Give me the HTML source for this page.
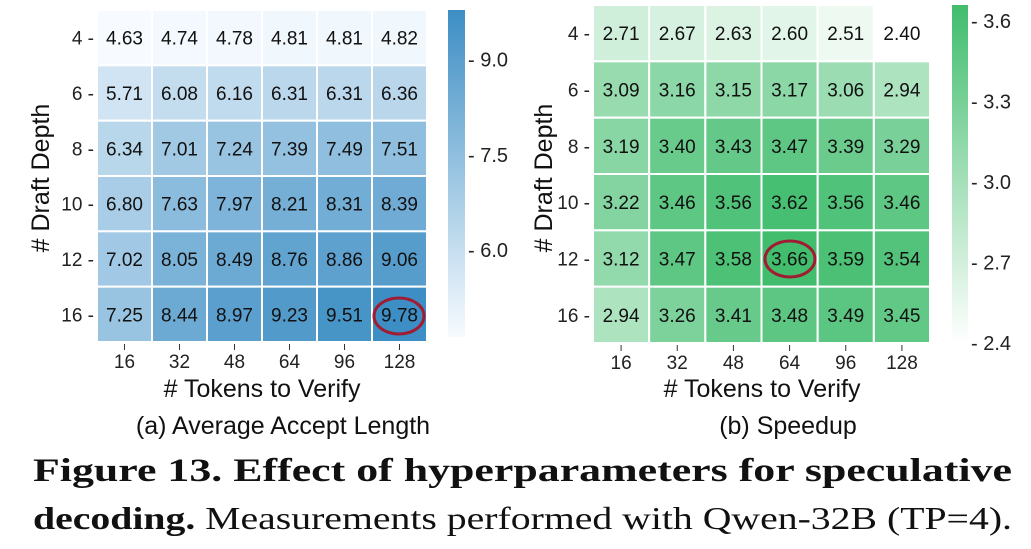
<!DOCTYPE html>
<html><head><meta charset="utf-8"><style>
html,body{margin:0;padding:0;background:#fff;width:1031px;height:549px;overflow:hidden}
svg{display:block;font-family:"Liberation Sans",Arial,sans-serif}
</style></head><body>
<svg id="s" width="1031" height="549" viewBox="0 0 1031 549" xmlns="http://www.w3.org/2000/svg">
<defs>
<linearGradient id="gb" x1="0" y1="1" x2="0" y2="0"><stop offset="0" stop-color="#f7fbff"/><stop offset="1" stop-color="#3d8ec4"/></linearGradient>
<linearGradient id="gg" x1="0" y1="1" x2="0" y2="0"><stop offset="0" stop-color="#ffffff"/><stop offset="1" stop-color="#41bd6d"/></linearGradient>
</defs>
<g id="L"></g><g id="R"></g>
<text transform="translate(49,178) rotate(-90)" text-anchor="middle" font-size="25" fill="#111"># Draft Depth</text>
<text x="262" y="397" text-anchor="middle" font-size="25" fill="#111"># Tokens to Verify</text>
<text x="283" y="434" text-anchor="middle" font-size="25" fill="#111">(a) Average Accept Length</text>
<text transform="translate(552,178) rotate(-90)" text-anchor="middle" font-size="25" fill="#111"># Draft Depth</text>
<text x="762" y="397" text-anchor="middle" font-size="25" fill="#111"># Tokens to Verify</text>
<text x="788" y="434" text-anchor="middle" font-size="25" fill="#111">(b) Speedup</text>
<text x="33" y="481" font-family="Liberation Serif,serif" font-weight="bold" font-size="33" textLength="979" lengthAdjust="spacingAndGlyphs" fill="#111">Figure 13. Effect of hyperparameters for speculative</text>
<text x="33" y="529" font-family="Liberation Serif,serif" font-size="32" textLength="979" lengthAdjust="spacingAndGlyphs" fill="#111"><tspan font-weight="bold">decoding.</tspan> Measurements performed with Qwen-32B (TP=4).</text>
<rect x="448" y="10" width="17" height="327" fill="url(#gb)"/>
<rect x="952" y="5" width="16" height="338" fill="url(#gg)"/>
</svg>
<script>
var NS="http://www.w3.org/2000/svg";
function el(p,t,a,txt){var e=document.createElementNS(NS,t);for(var k in a)e.setAttribute(k,a[k]);if(txt!=null)e.textContent=txt;p.appendChild(e);return e;}
var rows=["4","6","8","10","12","16"],cols=["16","32","48","64","96","128"];
var A=[[4.63,4.74,4.78,4.81,4.81,4.82],[5.71,6.08,6.16,6.31,6.31,6.36],[6.34,7.01,7.24,7.39,7.49,7.51],[6.80,7.63,7.97,8.21,8.31,8.39],[7.02,8.05,8.49,8.76,8.86,9.06],[7.25,8.44,8.97,9.23,9.51,9.78]];
var B=[[2.71,2.67,2.63,2.60,2.51,2.40],[3.09,3.16,3.15,3.17,3.06,2.94],[3.19,3.40,3.43,3.47,3.39,3.29],[3.22,3.46,3.56,3.62,3.56,3.46],[3.12,3.47,3.58,3.66,3.59,3.54],[2.94,3.26,3.41,3.48,3.49,3.45]];
function mix(c0,c1,t){return "rgb("+[0,1,2].map(function(i){return Math.round(c0[i]+(c1[i]-c0[i])*t)}).join(",")+")";}
function draw(g,D,x0,y0,x1,y1,vmin,vmax,c0,c1,ticks,cbx,cby0,cby1,circ){
 var G=document.getElementById(g),cw=(x1-x0)/6,ch=(y1-y0)/6;
 for(var r=0;r<6;r++)for(var c=0;c<6;c++){
  var t=(D[r][c]-vmin)/(vmax-vmin);
  el(G,"rect",{x:x0+c*cw,y:y0+r*ch,width:cw,height:ch,fill:mix(c0,c1,t),stroke:"#fff","stroke-width":2});
  el(G,"text",{x:x0+c*cw+cw/2,y:y0+r*ch+ch/2+7,"text-anchor":"middle","font-size":19,fill:"#111"},D[r][c].toFixed(2));
 }
 for(var r=0;r<6;r++){var y=y0+r*ch+ch/2;
  el(G,"text",{x:x0-3,y:y+7,"text-anchor":"end","font-size":19,fill:"#222"},rows[r]+" -");}
 for(var c=0;c<6;c++){var x=x0+c*cw+cw/2;
  el(G,"line",{x1:x,x2:x,y1:y1+2,y2:y1+8,stroke:"#333","stroke-width":1});
  el(G,"text",{x:x,y:y1+26,"text-anchor":"middle","font-size":19,fill:"#222"},cols[c]);}
 ticks.forEach(function(tk){var y=cby1-(tk-vmin)/(vmax-vmin)*(cby1-cby0);
  el(G,"text",{x:cbx+3,y:y+7,"font-size":20,fill:"#222"},"- "+tk.toFixed(1));});
 el(G,"ellipse",{cx:circ[0],cy:circ[1],rx:circ[2],ry:circ[3],fill:"none",stroke:"#a01c32","stroke-width":3});
}
draw("L",A,97,10,427,342,4.63,9.78,[247,251,255],[61,142,196],[9.0,7.5,6.0],465,10,337,[399,316,25,18]);
draw("R",B,593,5,930,343,2.40,3.66,[255,255,255],[65,189,109],[3.6,3.3,3.0,2.7,2.4],968,5,343,[790,259,25,18]);
</script>
</body></html>
